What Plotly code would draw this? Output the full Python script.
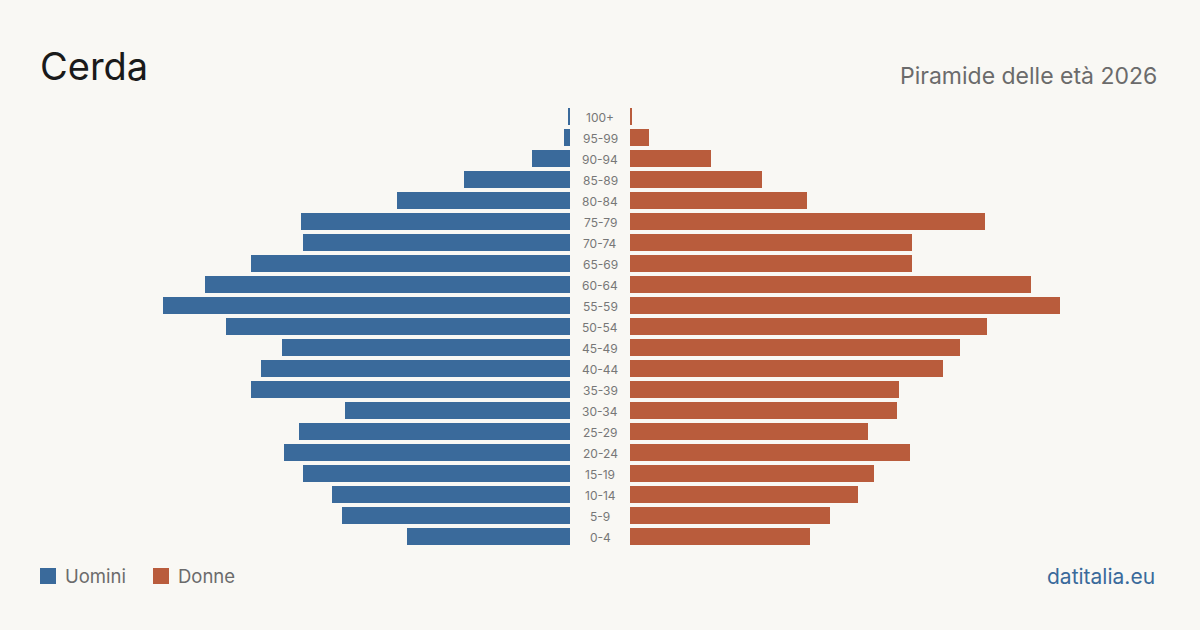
import plotly.graph_objects as go

# Data (approximate population counts)
age_groups = ["0-4", "5-9", "10-14", "15-19", "20-24", "25-29", "30-34", "35-39",
              "40-44", "45-49", "50-54", "55-59", "60-64", "65-69", "70-74",
              "75-79", "80-84", "85-89", "90-94", "95-99", "100+"]
men = [81.5, 114, 119, 133.5, 143, 135.5, 112.5, 159.5, 154.5, 144, 172, 203.5,
       182.5, 159.5, 133.5, 134.5, 86.5, 53, 19, 3, 1]
women = [90, 100, 114, 122, 140, 119, 133.5, 134.5, 156.5, 165, 178.5, 215,
         200.5, 141, 141, 177.5, 88.5, 66, 40.5, 9.5, 1]

W, H = 1200, 630
TOP, BOTTOM = 106, 83
GAP = 15  # half gap (in data units) around the centre labels

BLUE = "#3a6a9b"
ORANGE = "#b95c3c"
BG = "#f9f8f4"
FONT = "Inter, Liberation Sans, sans-serif"

fig = go.Figure()
fig.add_trace(go.Bar(
    y=age_groups, x=[-v for v in men], base=-GAP, orientation="h",
    marker=dict(color=BLUE, line=dict(width=0)), name="Uomini",
    hoverinfo="skip"))
fig.add_trace(go.Bar(
    y=age_groups, x=women, base=GAP, orientation="h",
    marker=dict(color=ORANGE, line=dict(width=0)), name="Donne",
    hoverinfo="skip"))

ph = H - TOP - BOTTOM


def py(pix):
    return (H - BOTTOM - pix) / ph


def px(pix):
    return pix / W


annotations = [
    dict(text="Cerda", x=px(38), y=py(66), xanchor="left", yanchor="middle",
         font=dict(family=FONT, size=38, color="#1a1a1a")),
    dict(text="Piramide delle età 2026", x=px(1159), y=py(76), xanchor="right",
         yanchor="middle", font=dict(family=FONT, size=23, color="#6b6b6b")),
    dict(text="Uomini", x=px(63), y=py(576), xanchor="left", yanchor="middle",
         font=dict(family=FONT, size=18.5, color="#6b6b6b")),
    dict(text="Donne", x=px(176), y=py(576), xanchor="left", yanchor="middle",
         font=dict(family=FONT, size=18.5, color="#6b6b6b")),
    dict(text="datitalia.eu", x=px(1157), y=py(576), xanchor="right",
         yanchor="middle", font=dict(family=FONT, size=21, color="#3a6a9b")),
]
for a in annotations:
    a.update(xref="paper", yref="paper", showarrow=False)

# centre age labels, positioned on the data axes
for g in age_groups:
    annotations.append(dict(
        text=g, x=0, y=g, xref="x", yref="y", showarrow=False,
        xanchor="center", yanchor="middle", yshift=-1,
        font=dict(family=FONT, size=12, color="#777777")))

shapes = [
    dict(type="rect", xref="paper", yref="paper", x0=px(40), x1=px(56),
         y0=py(584), y1=py(568), fillcolor=BLUE, line=dict(width=0)),
    dict(type="rect", xref="paper", yref="paper", x0=px(153), x1=px(169),
         y0=py(584), y1=py(568), fillcolor=ORANGE, line=dict(width=0)),
]

fig.update_layout(
    width=W, height=H,
    margin=dict(l=0, r=0, t=TOP, b=BOTTOM),
    paper_bgcolor=BG, plot_bgcolor=BG,
    barmode="overlay", bargap=0.19,
    showlegend=False,
    xaxis=dict(range=[-W / 4, W / 4], visible=False, fixedrange=True),
    yaxis=dict(categoryorder="array", categoryarray=age_groups,
               range=[-0.5, len(age_groups) - 0.5], visible=False,
               fixedrange=True),
    annotations=annotations, shapes=shapes,
)

fig.write_html("out.html")
